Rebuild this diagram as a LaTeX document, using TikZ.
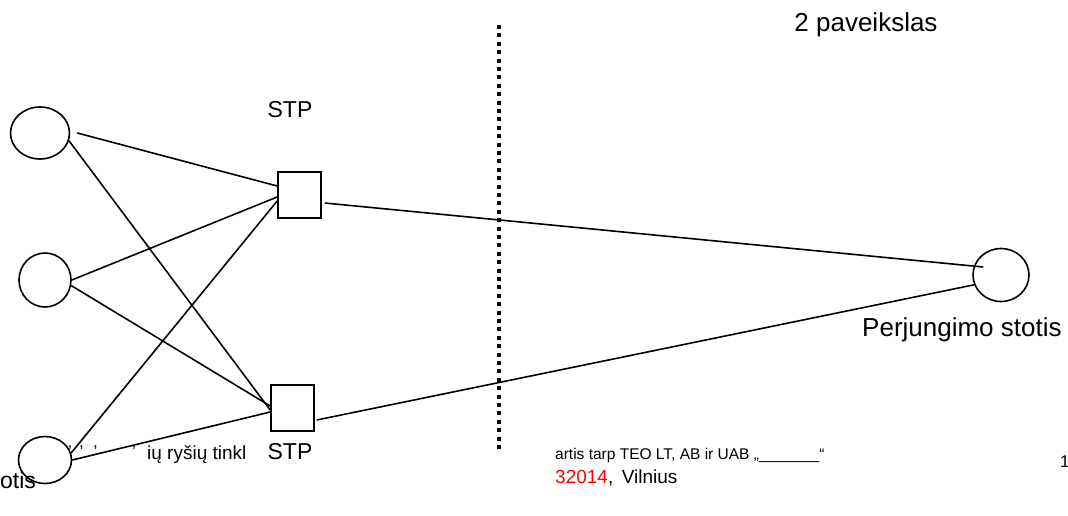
\documentclass[tikz,border=0pt]{standalone}
\usepackage{fontspec}
\setmainfont{Liberation Sans}
\usepackage{tikz}
\usetikzlibrary{arrows.meta,positioning,shapes.geometric,calc}
\usepackage{xcolor}

\begin{document}
\begin{tikzpicture}[
  x=1pt, y=-1pt,
  station/.style={ellipse, draw=black, line width=1.6pt, inner sep=0pt},
  stpbox/.style={rectangle, draw=black, line width=1.6pt, minimum width=43pt, minimum height=46pt, inner sep=0pt},
  link/.style={line width=1.6pt},
  lbl/.style={font=\fontsize{23}{27}\selectfont, inner sep=0pt},
  biglbl/.style={font=\fontsize{26}{30}\selectfont, inner sep=0pt},
  foot/.style={inner sep=0pt, anchor=west}
]
\useasboundingbox (0,0) rectangle (1068,515);

\node[station, minimum width=59pt, minimum height=52pt] (st1) at (40,133) {};
\node[station, minimum width=52pt, minimum height=54pt] (st2) at (45,280) {};
\node[station, minimum width=53pt, minimum height=47pt] (st3) at (45,460) {};
\node[station, minimum width=56pt, minimum height=53pt] (sw) at (1001,275) {};
\node[stpbox] (stpa) at (299.5,195) {};
\node[stpbox] (stpb) at (292.5,408) {};

\draw[link] ([xshift=7pt]st1.east) -- ([yshift=9pt]stpa.west);
\draw[link] (st1.-15) -- ([yshift=-2pt]stpb.west);
\draw[link] (st2.east) -- ([yshift=-2pt]stpa.west);
\draw[link] (st2.-12) -- ([yshift=2pt]stpb.west);
\draw[link] (st3.15) -- ([yshift=-6pt]stpa.west);
\draw[link] (st3.east) -- ([yshift=-4pt]stpb.west);
\draw[link] ([xshift=3pt,yshift=-8pt]stpa.east) -- ([xshift=11pt,yshift=8pt]sw.west);
\draw[link] ([xshift=2pt,yshift=-12pt]stpb.east) -- (sw.200);

% dotted border
\coordinate (dtop) at (499,25);
\coordinate (dbot) at (499,452);
\draw[line width=4pt, dash pattern=on 4pt off 4.4pt] (dtop) -- (dbot);

\node[lbl] (stptop) at (290,110) {STP};
\node[lbl] (stpbot) at (290,452) {STP};
\node[biglbl] (fig) at (866,25) {2 paveikslas};
\node[biglbl, anchor=west] (swname) at (862,330) {Perjungimo stotis};
\node[lbl, anchor=west] (stname) at (0,480) {otis};

% footer
\node[foot, font=\fontsize{17}{20}\selectfont] (ftick) at (68,452) {' \,' \,\,' \hspace{30pt}'};
\node[foot, font=\fontsize{19}{22}\selectfont] (fa) at (147,455) {ių ryšių tinkl};
\node[foot, font=\fontsize{15.5}{18}\selectfont] (fb) at (555,455) {artis tarp TEO LT, AB ir UAB „\_\_\_\_\_\_\_“};
\node[foot, font=\fontsize{19}{22}\selectfont] (fc) at (555,478) {\textcolor{red}{32014}, \,Vilnius};
\node[foot, font=\fontsize{17}{20}\selectfont] (fd) at (1060,462) {1};
\end{tikzpicture}
\end{document}
